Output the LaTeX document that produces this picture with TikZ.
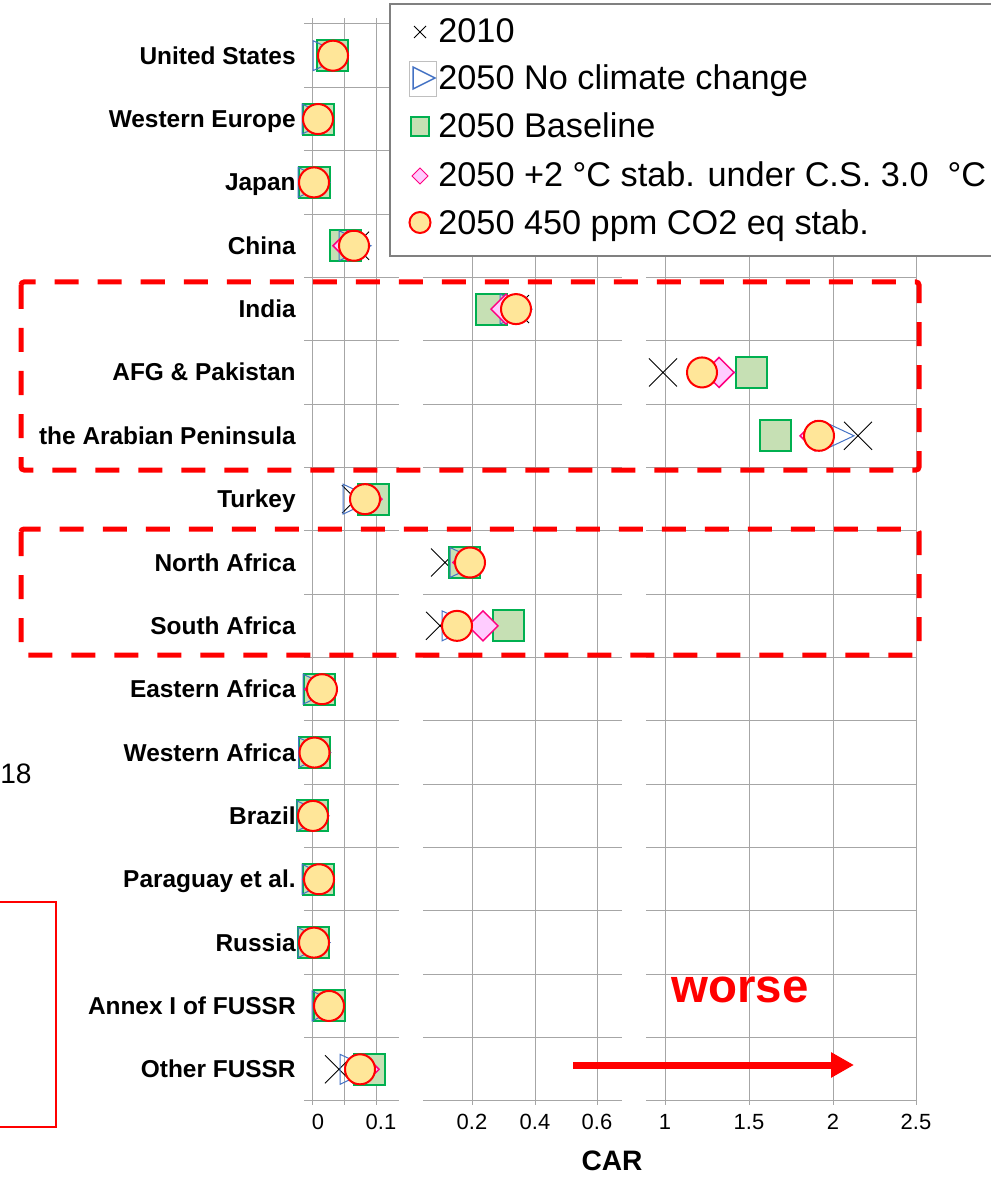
\documentclass[tikz,border=0pt]{standalone}
\usepackage{fontspec}
\setmainfont{Liberation Sans}
\usetikzlibrary{arrows.meta}
\definecolor{gridgray}{HTML}{A6A6A6}
\definecolor{legendgray}{HTML}{808080}
\definecolor{basegreen}{HTML}{00B050}
\definecolor{basefill}{HTML}{C6E0B4}
\definecolor{nccblue}{HTML}{4472C4}
\definecolor{twopink}{HTML}{FF0080}
\definecolor{twofill}{HTML}{FFCCFF}
\definecolor{circfill}{HTML}{FFE699}
\tikzstyle{gridline} = [draw=gridgray, line width=0.2mm]
\tikzstyle{crossmark} = [draw=black, line width=0.18mm]
\tikzstyle{sqmark} = [draw=basegreen, fill=basefill, line width=0.4mm]
\tikzstyle{trimark} = [draw=nccblue, line width=0.2mm]
\tikzstyle{diamark} = [draw=twopink, fill=twofill, line width=0.3mm]
\tikzstyle{circmark} = [draw=red, fill=circfill, line width=0.4mm]
\tikzstyle{region} = [anchor=base east, inner sep=0pt,
    font=\fontsize{13.9}{16}\selectfont\bfseries]
\tikzstyle{ticklabel} = [inner sep=0pt, font=\fontsize{12.5}{14}\selectfont]
\tikzstyle{legendtext} = [anchor=base west, inner sep=0pt,
    font=\fontsize{19.5}{23}\selectfont]
\tikzstyle{focusbox} = [draw=red, line width=1mm,
    dash pattern=on 4.8mm off 3.8mm, rounded corners=0.6mm]
\tikzstyle{arrow} = [red, line width=1.4mm, -{Triangle[length=4.6mm, width=4.8mm]}]

\begin{document}
\begin{tikzpicture}[x=0.2mm, y=-0.2mm]
\useasboundingbox (0,0) rectangle (990,1177);

% grid of the three panels
\foreach \k in {0,...,17} {
  \draw[gridline] (304,{24+63.35*\k}) -- (399,{24+63.35*\k});
  \draw[gridline] (423,{24+63.35*\k}) -- (622,{24+63.35*\k});
  \draw[gridline] (646,{24+63.35*\k}) -- (916,{24+63.35*\k});
}
\foreach \gx in {312,344,376,472,535,597,665,749,833,916}
  \draw[gridline] (\gx,18) -- (\gx,1105);

% region names
\foreach \lab [count=\k from 0] in {United States, Western Europe, Japan,
    China, India, AFG \& Pakistan, the Arabian Peninsula, Turkey,
    North Africa, South Africa, Eastern Africa, Western Africa, Brazil,
    Paraguay et al., Russia, Annex I of FUSSR, Other FUSSR}
  \node[region] (lab\k) at (296,{55.7+63.35*\k+8.5}) {\lab};

% markers: row / 2010 / no CC / baseline / +2 / 450 ppm
\foreach \k/\xa/\xb/\xc/\xd/\xe in {0/331/329/332/333/333,
    1/318/318/318.5/318/318, 2/314/314/314/314/314,
    3/355/355/345/348/354, 4/515/516/491/506/516,
    5/663/719/751/719/702, 6/858/838/775/815/819,
    7/356/359/373.5/367/365, 8/445/466/464/468/470,
    9/440/458/508/483/457, 10/320/319/319.5/320/322,
    11/314.5/314.5/314.5/314.5/314.5, 12/313/313/312.5/313/313,
    13/318/318/318/318/319, 14/314/314/313.5/314/314,
    15/329/328/329.5/329/329, 16/339/356/369/364/360} {
  \pgfmathsetmacro{\yc}{55.7+63.35*\k}
  \draw[crossmark] (\xa-14,\yc-14) -- (\xa+14,\yc+14)
                   (\xa-14,\yc+14) -- (\xa+14,\yc-14);
  \draw[sqmark] (\xc-15.5,\yc-15.5) rectangle (\xc+15.5,\yc+15.5);
  \draw[trimark] (\xb-16,\yc-15) -- (\xb+16,\yc) -- (\xb-16,\yc+15) -- cycle;
  \draw[diamark] (\xd-15,\yc) -- (\xd,\yc-15) -- (\xd+15,\yc)
                 -- (\xd,\yc+15) -- cycle;
  \draw[circmark] (\xe,\yc) circle[radius=15];
}

% highlighted groups
\draw[focusbox] (21,282) rectangle (919,470);
\draw[focusbox] (21,529) rectangle (919,655);

% axis
\node[ticklabel] (t0) at (318,1122) {0};
\node[ticklabel] (t01) at (381,1122) {0.1};
\node[ticklabel] (t02) at (472,1122) {0.2};
\node[ticklabel] (t04) at (535,1122) {0.4};
\node[ticklabel] (t06) at (597,1122) {0.6};
\node[ticklabel] (t1) at (665,1122) {1};
\node[ticklabel] (t15) at (749,1122) {1.5};
\node[ticklabel] (t2) at (833,1122) {2};
\node[ticklabel] (t25) at (916,1122) {2.5};
\node[font=\fontsize{16}{19}\selectfont\bfseries] (car) at (612,1161) {CAR};

% worse
\node[text=red, font=\fontsize{27}{30}\selectfont\bfseries] (worse) at (740,990) {worse};
\coordinate (arrstart) at (573,1065);
\coordinate (arrend) at (854,1065);
\draw[arrow] (arrstart) -- (arrend);

% legend
\draw[fill=white, draw=legendgray, line width=0.3mm] (390,4) rectangle (1000,256);
\draw[crossmark] (414,26) -- (426,38) (414,38) -- (426,26);
\draw[draw=gray!50, line width=0.2mm] (409,62) rectangle (436,97);
\draw[trimark, line width=0.3mm] (413,67) -- (435,78) -- (413,89) -- cycle;
\draw[sqmark] (411,117) rectangle (429,136);
\draw[diamark, line width=0.2mm] (412,176) -- (420,168) -- (428,176) -- (420,184) -- cycle;
\draw[circmark] (420,222.5) circle[radius=10.5];
\node[legendtext] (leg1) at (438,42.5) {2010};
\node[legendtext] (leg2) at (438,89.5) {2050 No climate change};
\node[legendtext] (leg3) at (438,138) {2050 Baseline};
\node[legendtext] (leg4) at (438,187) {2050 +2 °C stab. under C.S. 3.0\ \ °C};
\node[legendtext] (leg5) at (438,235) {2050 450 ppm CO2 eq stab.};

% pieces at the left edge
\node[anchor=base west, inner sep=0pt, font=\fontsize{16}{19}\selectfont] (cut) at (0,783) {18};
\draw[red, line width=0.3mm] (-5,902) rectangle (56,1127);

\end{tikzpicture}
\end{document}
